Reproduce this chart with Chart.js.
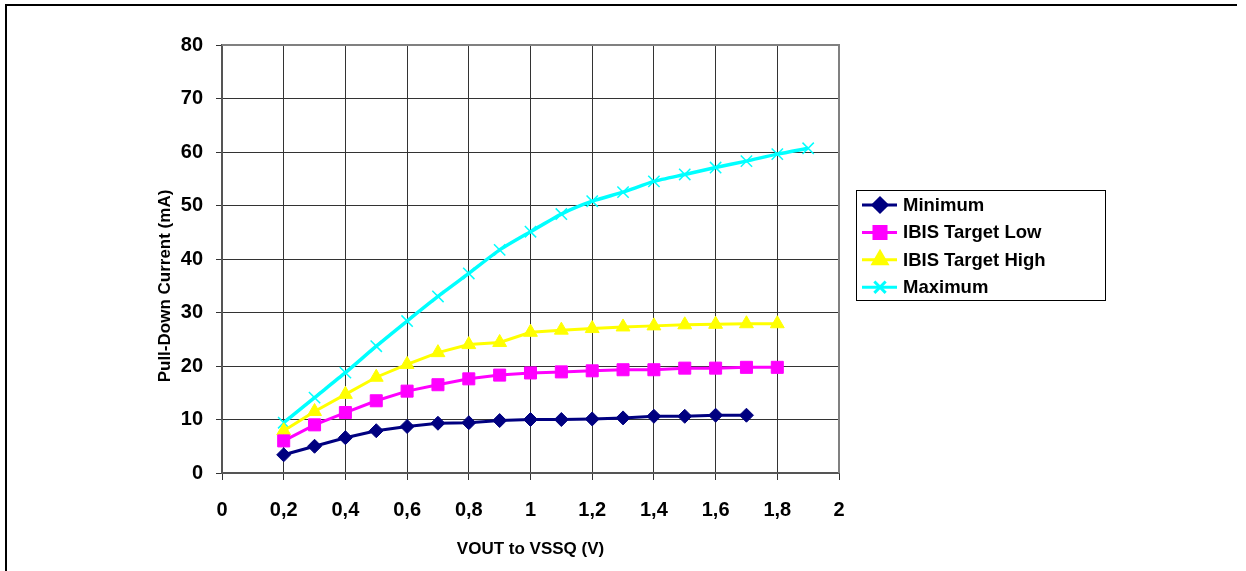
<!DOCTYPE html>
<html>
<head>
<meta charset="utf-8">
<script src="https://cdn.jsdelivr.net/npm/chart.js@4/dist/chart.umd.min.js"></script>
<style>
  body { margin: 0; background: #fff; }
  #wrap { position: relative; width: 1246px; height: 571px; }
  #frameTop { position: absolute; left: 5px; top: 4px; width: 1232px; height: 2px; background: #000; }
  #frameLeft { position: absolute; left: 5px; top: 4px; width: 2px; height: 567px; background: #000; }
</style>
</head>
<body>
<div id="wrap">
  <canvas id="chart" width="1246" height="571"></canvas>
  <div id="frameTop"></div>
  <div id="frameLeft"></div>
</div>
<script>
// data
const xMinimum = [0.2, 0.3, 0.4, 0.5, 0.6, 0.7, 0.8, 0.9, 1.0, 1.1, 1.2, 1.3, 1.4, 1.5, 1.6, 1.7];
const yMinimum = [3.4, 5.0, 6.6, 7.9, 8.7, 9.3, 9.4, 9.8, 10.0, 10.0, 10.1, 10.3, 10.6, 10.6, 10.8, 10.8];

const xTargetLow = [0.2, 0.3, 0.4, 0.5, 0.6, 0.7, 0.8, 0.9, 1.0, 1.1, 1.2, 1.3, 1.4, 1.5, 1.6, 1.7, 1.8];
const yTargetLow = [6.0, 9.0, 11.3, 13.5, 15.3, 16.5, 17.6, 18.3, 18.7, 18.9, 19.1, 19.3, 19.3, 19.6, 19.6, 19.75, 19.75];

const xTargetHigh = [0.2, 0.3, 0.4, 0.5, 0.6, 0.7, 0.8, 0.9, 1.0, 1.1, 1.2, 1.3, 1.4, 1.5, 1.6, 1.7, 1.8];
const yTargetHigh = [7.9, 11.5, 14.7, 17.9, 20.3, 22.5, 24.0, 24.4, 26.3, 26.7, 27.0, 27.3, 27.5, 27.7, 27.8, 27.9, 27.9];

const xMaximum = [0.2, 0.3, 0.4, 0.5, 0.6, 0.7, 0.8, 0.9, 1.0, 1.1, 1.2, 1.3, 1.4, 1.5, 1.6, 1.7, 1.8, 1.9];
const yMaximum = [9.4, 14.1, 18.75, 23.7, 28.4, 33.0, 37.3, 41.7, 45.1, 48.4, 50.8, 52.5, 54.5, 55.8, 57.1, 58.3, 59.6, 60.7];

const seriesNames = ['Minimum', 'IBIS Target Low', 'IBIS Target High', 'Maximum'];
const xTickLabels = ['0', '0,2', '0,4', '0,6', '0,8', '1', '1,2', '1,4', '1,6', '1,8', '2'];
const yTickLabels = ['0', '10', '20', '30', '40', '50', '60', '70', '80'];

const FONT = '"Liberation Sans", Arial, sans-serif';

function pts(xs, ys) {
    return xs.map((x, i) => ({ x: x, y: ys[i] }));
}

// legend + plot frame + y title, drawn by hand
const extras = {
    id: 'extras',
    afterDraw(chart) {
        const ctx = chart.ctx;
        const a = chart.chartArea;
        ctx.save();

        // plot frame top/right
        ctx.strokeStyle = '#808080';
        ctx.lineWidth = 2;
        ctx.beginPath();
        ctx.moveTo(a.left, a.top);
        ctx.lineTo(a.right, a.top);
        ctx.lineTo(a.right, a.bottom);
        ctx.stroke();

        // y axis title
        ctx.fillStyle = '#000';
        ctx.font = 'bold 17px ' + FONT;
        ctx.textAlign = 'center';
        ctx.textBaseline = 'middle';
        ctx.translate(165, 286);
        ctx.rotate(-Math.PI / 2);
        ctx.fillText('Pull-Down Current (mA)', 0, 0);
        ctx.setTransform(1, 0, 0, 1, 0, 0);

        // legend
        const lx = a.right + 17, ly = 190;
        ctx.strokeStyle = '#000';
        ctx.lineWidth = 1;
        ctx.strokeRect(lx + 0.5, ly + 0.5, 249, 110);
        ctx.font = 'bold 18.5px ' + FONT;
        ctx.textAlign = 'left';
        chart.data.datasets.forEach((ds, i) => {
            const y = ly + 15 + i * 27.4;
            ctx.strokeStyle = ds.borderColor;
            ctx.lineWidth = 3;
            ctx.beginPath();
            ctx.moveTo(lx + 6, y);
            ctx.lineTo(lx + 41, y);
            ctx.stroke();
            ctx.fillStyle = ds.pointBackgroundColor;
            ctx.strokeStyle = ds.pointBorderColor;
            Chart.helpers.drawPoint(ctx, {
                pointStyle: ds.pointStyle,
                radius: ds.pointRadius,
                rotation: 0,
                borderWidth: ds.pointBorderWidth
            }, lx + 24, y);
            ctx.fillStyle = '#000';
            ctx.fillText(ds.label, lx + 47, y + 1);
        });
        ctx.restore();
    }
};

new Chart(document.getElementById('chart'), {
    type: 'line',
    data: {
        datasets: [
            {
                label: seriesNames[0],
                data: pts(xMinimum, yMinimum),
                borderColor: '#000080',
                borderWidth: 3,
                pointStyle: 'rectRot',
                pointRadius: 7,
                pointBackgroundColor: '#000080',
                pointBorderColor: '#000080',
                pointBorderWidth: 1
            },
            {
                label: seriesNames[1],
                data: pts(xTargetLow, yTargetLow),
                borderColor: '#FF00FF',
                borderWidth: 3,
                pointStyle: 'rect',
                pointRadius: 8.5,
                pointBackgroundColor: '#FF00FF',
                pointBorderColor: '#FF00FF',
                pointBorderWidth: 1
            },
            {
                label: seriesNames[2],
                data: pts(xTargetHigh, yTargetHigh),
                borderColor: '#FFFF00',
                borderWidth: 3,
                pointStyle: 'triangle',
                pointRadius: 8,
                pointBackgroundColor: '#FFFF00',
                pointBorderColor: '#FFFF00',
                pointBorderWidth: 1
            },
            {
                label: seriesNames[3],
                data: pts(xMaximum, yMaximum),
                borderColor: '#00FFFF',
                borderWidth: 3.5,
                pointStyle: 'crossRot',
                pointRadius: 8,
                pointBackgroundColor: '#00FFFF',
                pointBorderColor: '#00FFFF',
                pointBorderWidth: 1.5,
                tension: 0.2
            }
        ]
    },
    options: {
        responsive: false,
        animation: false,
        layout: { padding: { left: 0, top: 45, right: 407, bottom: 0 } },
        plugins: {
            legend: { display: false },
            tooltip: { enabled: false }
        },
        scales: {
            x: {
                type: 'linear',
                min: 0,
                max: 2,
                afterFit: s => { s.height = 98; },
                ticks: {
                    stepSize: 0.2,
                    padding: 18,
                    color: '#000',
                    font: { family: FONT, size: 20, weight: 'bold' },
                    callback: (v, i) => xTickLabels[i]
                },
                grid: { color: '#333', lineWidth: 1, tickLength: 7 },
                border: { color: '#555', width: 2 },
                title: {
                    display: true,
                    text: 'VOUT to VSSQ (V)',
                    color: '#000',
                    font: { family: FONT, size: 17, weight: 'bold' },
                    padding: { top: 0, bottom: 11 }
                }
            },
            y: {
                min: 0,
                max: 80,
                afterFit: s => { s.width = 222; },
                ticks: {
                    stepSize: 10,
                    padding: 13,
                    color: '#000',
                    font: { family: FONT, size: 20, weight: 'bold' },
                    callback: (v, i) => yTickLabels[i]
                },
                grid: { color: '#333', lineWidth: 1, tickLength: 6 },
                border: { color: '#555', width: 2 }
            }
        }
    },
    plugins: [extras]
});
</script>
</body>
</html>
